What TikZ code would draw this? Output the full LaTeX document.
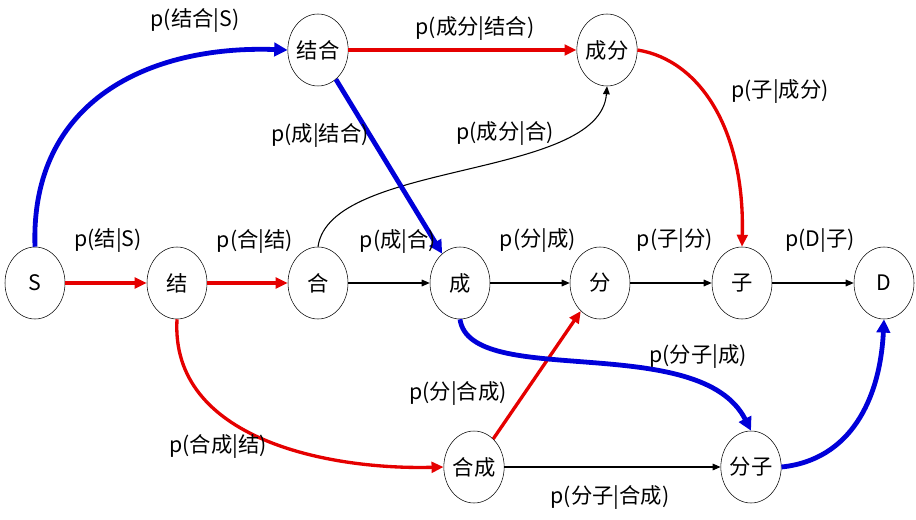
\documentclass[tikz,border=0pt]{standalone}
\usepackage{fontspec}
\setmainfont{Noto Sans CJK SC}
\usetikzlibrary{shapes.geometric,arrows.meta}
\tikzset{
 word/.style={draw,ellipse,fill=white,minimum width=45pt,minimum height=54pt,inner sep=0pt,font=\fontsize{16}{18}\selectfont},
 lab/.style={font=\fontsize{16}{18}\selectfont},
 plain/.style={-{Triangle[length=6pt,width=5pt]},line width=0.8pt},
 redp/.style={-{Triangle[length=9pt,width=8pt]},line width=2.5pt,red!90!black},
 bluep/.style={-{Triangle[length=10pt,width=10pt]},line width=3.6pt,blue!85!black}
}
\begin{document}
\begin{tikzpicture}[x=0.75pt,y=-0.75pt]
\useasboundingbox (0,0) rectangle (916,520);
% nodes
\node[word] (S) at (35,283) {S};
\node[word] (jie) at (177,283) {结};
\node[word] (he) at (318,283) {合};
\node[word] (cheng) at (460,283) {成};
\node[word] (fen) at (600,283) {分};
\node[word] (zi) at (742,283) {子};
\node[word] (D) at (884,283) {D};
\node[word] (jiehe) at (318,50) {结合};
\node[word] (chengfen) at (607,50) {成分};
\node[word] (hecheng) at (474,467) {合成};
\node[word] (fenzi) at (751,467) {分子};
% black edges
\draw[plain] (he) -- (cheng);
\draw[plain] (cheng) -- (fen);
\draw[plain] (fen) -- (zi);
\draw[plain] (zi) -- (D);
\draw[plain] (hecheng) -- (fenzi);
\draw[plain] (he.north) .. controls (330,160) and (600,180) .. (chengfen.south);
% red edges
\draw[redp] (S) -- (jie);
\draw[redp] (jie) -- (he);
\draw[redp] (jiehe) -- (chengfen);
\draw[redp] (chengfen.east) .. controls (700,60) and (745,130) .. (zi.north);
\draw[redp] (jie.south) .. controls (170,440) and (330,470) .. (hecheng.west);
\draw[redp] (hecheng) -- (fen);
% blue edges
\draw[bluep] (S.north) .. controls (30,100) and (150,45) .. (jiehe.west);
\draw[bluep] (jiehe) -- (cheng);
\draw[bluep] (cheng.south) .. controls (470,390) and (700,330) .. (fenzi.north);
\draw[bluep] (fenzi.east) .. controls (850,460) and (880,400) .. (D.south);
% labels
\node[lab] at (195,20) {p(结合|S)};
\node[lab] at (475,28) {p(成分|结合)};
\node[lab] at (780,92) {p(子|成分)};
\node[lab] at (320,135) {p(成|结合)};
\node[lab] at (505,133) {p(成分|合)};
\node[lab] at (108,241) {p(结|S)};
\node[lab] at (255,241) {p(合|结)};
\node[lab] at (398,241) {p(成|合)};
\node[lab] at (538,241) {p(分|成)};
\node[lab] at (675,241) {p(子|分)};
\node[lab] at (820,241) {p(D|子)};
\node[lab] at (698,357) {p(分子|成)};
\node[lab] at (458,393) {p(分|合成)};
\node[lab] at (218,446) {p(合成|结)};
\node[lab] at (610,497) {p(分子|合成)};
\end{tikzpicture}
\end{document}
